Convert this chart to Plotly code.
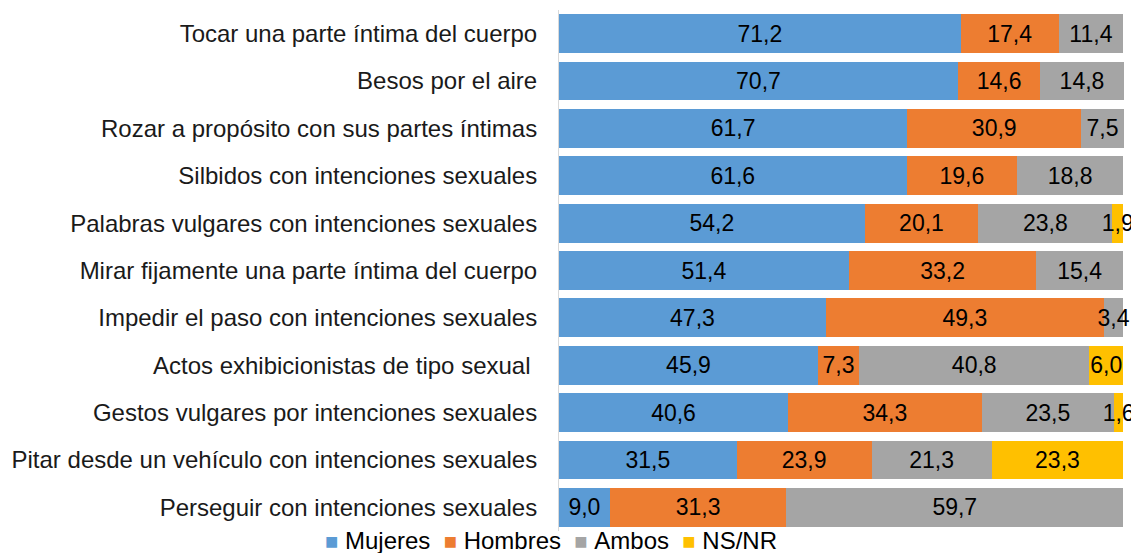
import plotly.graph_objects as go

categories = [
    "Tocar una parte íntima del cuerpo",
    "Besos por el aire",
    "Rozar a propósito con sus partes íntimas",
    "Silbidos con intenciones sexuales",
    "Palabras vulgares con intenciones sexuales",
    "Mirar fijamente una parte íntima del cuerpo",
    "Impedir el paso con intenciones sexuales",
    "Actos exhibicionistas de tipo sexual\u00a0",
    "Gestos vulgares por intenciones sexuales",
    "Pitar desde un vehículo con intenciones sexuales",
    "Perseguir con intenciones sexuales",
]

mujeres = [71.2, 70.7, 61.7, 61.6, 54.2, 51.4, 47.3, 45.9, 40.6, 31.5, 9.0]
hombres = [17.4, 14.6, 30.9, 19.6, 20.1, 33.2, 49.3, 7.3, 34.3, 23.9, 31.3]
ambos = [11.4, 14.8, 7.5, 18.8, 23.8, 15.4, 3.4, 40.8, 23.5, 21.3, 59.7]
nsnr = [0, 0, 0, 0, 1.9, 0, 0, 6.0, 1.6, 23.3, 0]

series = [
    ("Mujeres", mujeres, "#5B9BD5"),
    ("Hombres", hombres, "#ED7D31"),
    ("Ambos", ambos, "#A5A5A5"),
    ("NS/NR", nsnr, "#FFC000"),
]


def fmt(v):
    # coma decimal, vacío si no hay valor
    return f"{v:.1f}".replace(".", ",") if v else ""


fig = go.Figure()
for name, vals, color in series:
    fig.add_trace(go.Bar(
        y=categories,
        x=vals,
        name=name,
        orientation="h",
        marker=dict(color=color, line=dict(width=0)),
        text=[fmt(v) for v in vals],
        textposition="inside",
        insidetextanchor="middle",
        textangle=0,
        textfont=dict(color="#000000", size=23),
        cliponaxis=False,
        hoverinfo="x+name",
        showlegend=False,
    ))

# leyenda como texto: la leyenda de plotly no cabe tan abajo sin encoger el gráfico
legend_text = "\u00a0\u00a0".join(
    f"<span style='color:{color};font-size:22px'>■</span>\u00a0{name}"
    for name, _, color in series
)
fig.add_annotation(
    text=legend_text,
    xref="paper", yref="paper",
    x=-0.014, y=-0.019,
    xanchor="center", yanchor="middle",
    showarrow=False,
    font=dict(size=24, color="#000000"),
)

# la página tiene 8px de margen en el body
fig.update_layout(
    barmode="stack",
    width=1131,
    height=545,
    bargap=0.18,
    plot_bgcolor="white",
    paper_bgcolor="white",
    font=dict(family="Liberation Sans, Arial, sans-serif", size=24, color="#000000"),
    uniformtext=dict(minsize=23, mode="show"),
    margin=dict(l=551, r=15, t=2, b=22),
    # algunas filas suman 100,1: rango un poco mayor para no ocultar etiquetas
    xaxis=dict(range=[0, 100.15], showticklabels=False, showgrid=False, zeroline=False, fixedrange=True),
    yaxis=dict(
        categoryorder="array",
        categoryarray=categories,
        autorange="reversed",
        showline=True,
        linecolor="#D9D9D9",
        linewidth=1,
        showgrid=False,
        ticks="",
        ticklabelstandoff=16,
        tickfont=dict(size=24, color="#1a1a1a"),
        automargin=False,
    ),
)

fig.write_html("out.html")
